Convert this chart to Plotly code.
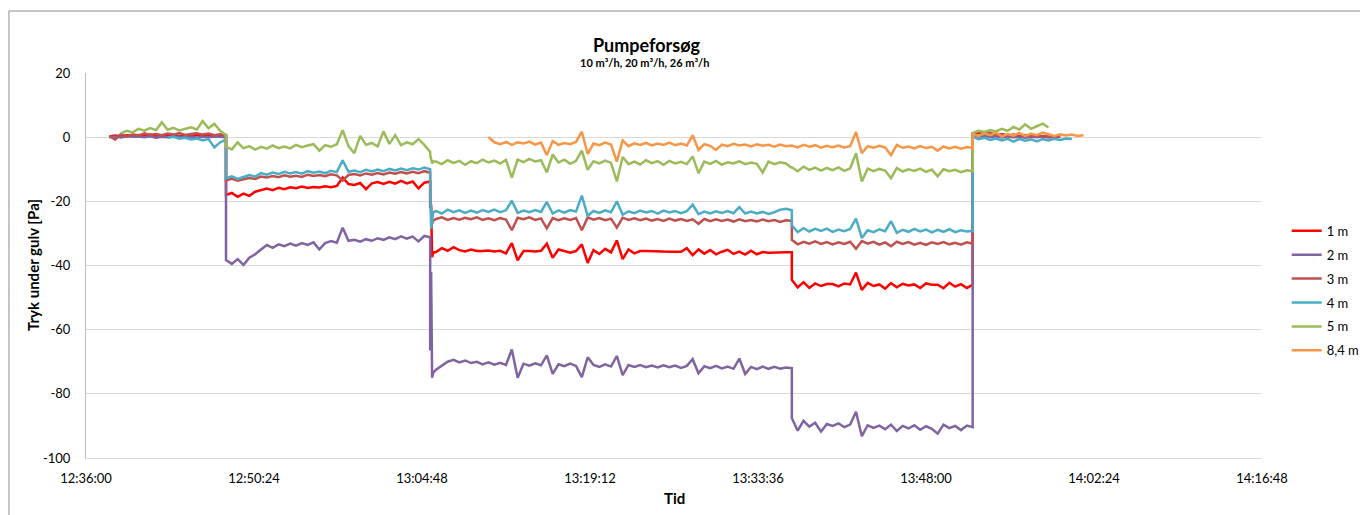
import pandas as pd
import plotly.graph_objects as go

# Logger segments: start time and sampling interval in seconds.
# Each series below holds one value list per segment.
segment_start = ["12:38:00", "12:48:00", "13:05:30", "13:06:00", "13:36:30", "13:52:00"]
segment_interval_s = [30, 30, 5, 30, 30, 30]
segment_length = [21, 36, 4, 62, 32, 21]

series_names = ["1 m", "2 m", "3 m", "4 m", "5 m", "8,4 m"]
series_colors = ["#FF0000", "#8064A2", "#C0504D", "#4BACC6", "#9BBB59", "#F79646"]

y_ticks = [-100, -80, -60, -40, -20, 0, 20]

N = None

tryk_1m = [
    [0.2, 0.5, 0.3, 0.6, 0.4, 0.7, 0.5, 0.8, 0.4, 0.6,
     0.5, 0.7, 0.4, 0.6, 0.5, 0.8, 0.6, 0.7, 0.5, 0.6,
     0.4],
    [-18.0, -17.4, -18.6, -17.6, -18.3, -17.0, -16.6, -16.0, -16.5, -15.8,
     -16.2, -15.6, -15.9, -15.4, -15.8, -15.5, -15.7, -15.3, -15.6, -15.2,
     -12.6, -14.6, -14.9, -14.3, -16.2, -14.4, -14.0, -14.6, -13.9, -14.5,
     -13.6, -14.4, -13.8, -16.0, -14.2, -13.8],
    [-22.0, -21.0, -37.4, -36.0],
    [-35.8, -34.6, -35.4, -34.3, -35.2, -35.6, -35.0, -35.5, -35.5, -35.3,
     -35.6, -35.4, -36.2, -33.0, -38.4, -35.5, -35.5, -35.6, -35.4, -33.2,
     -37.6, -35.0, -35.5, -36.0, -35.5, -33.4, -39.2, -35.2, -36.4, -34.8,
     -35.9, -32.2, -38.0, -35.0, -36.2, -35.5, -35.5, -35.6, -35.6, -35.6,
     -35.7, -35.7, -35.7, -34.6, -36.8, -35.0, -36.3, -35.2, -36.5, -35.7,
     -35.1, -36.4, -35.7, -36.6, -35.4, -36.5, -35.8, -36.0, -35.9, -35.9,
     -35.9, -35.9],
    [-44.5, -46.8, -45.2, -47.0, -45.6, -46.4, -45.8, -45.8, -46.5, -45.6,
     -45.9, -42.2, -47.6, -45.4, -46.4, -45.9, -47.2, -45.5, -46.8, -45.7,
     -46.2, -45.9, -47.0, -45.6, -46.0, -46.0, -47.1, -45.4, -46.6, -45.8,
     -47.0, -46.0],
    [1.0, 1.4, 0.8, 1.1, 0.6, 0.9, 0.5, 0.7, 0.4, 0.6,
     0.3, 0.5, 0.2, 0.4, 0.1, 0.3, N, N, N, N,
     N],
]

tryk_2m = [
    [0.0, 0.2, -0.1, 0.3, 0.1, 0.2, 0.0, 0.3, -0.2, 0.1,
     0.0, 0.2, 0.1, 0.0, 0.2, -0.1, 0.1, 0.0, 0.2, 0.1,
     0.0],
    [-38.3, -39.5, -38.0, -39.8, -37.6, -36.5, -35.0, -33.6, -34.5, -33.4,
     -34.0, -33.2, -33.8, -33.0, -33.6, -32.8, -35.0, -33.0, -32.4, -32.9,
     -28.2, -32.3, -32.0, -32.6, -31.8, -32.3, -31.5, -32.0, -31.2, -31.8,
     -30.9, -31.6, -31.0, -32.5, -30.8, -31.2],
    [-66.5, -42.0, -75.0, -73.5],
    [-72.5, -71.2, -70.0, -69.4, -70.2, -69.6, -70.4, -70.0, -70.8, -70.2,
     -70.9, -70.3, -71.0, -66.2, -75.0, -70.6, -71.2, -70.5, -71.1, -68.0,
     -73.8, -70.8, -71.4, -70.6, -71.3, -74.8, -68.6, -71.0, -71.6, -70.8,
     -71.5, -68.2, -74.2, -71.0, -71.6, -71.0, -71.7, -71.2, -71.8, -71.1,
     -71.7, -71.2, -71.9, -71.3, -69.2, -73.6, -71.4, -72.0, -71.3, -72.1,
     -71.5, -72.2, -69.0, -73.8, -71.6, -72.3, -71.5, -72.2, -71.6, -72.2,
     -71.8, -72.0],
    [-87.5, -91.5, -88.4, -90.2, -89.0, -91.8, -89.4, -90.0, -89.2, -90.4,
     -89.6, -85.6, -93.2, -89.8, -90.6, -89.9, -91.0, -89.6, -91.6, -90.0,
     -90.8, -89.8, -91.2, -90.1, -90.9, -92.4, -89.6, -90.7, -90.0, -91.3,
     -89.9, -90.4],
    [0.6, 0.2, 0.4, 0.0, 0.3, -0.1, 0.2, 0.0, 0.1, -0.2,
     0.1, 0.0, 0.2, -0.1, 0.0, 0.1, N, N, N, N,
     N],
]

tryk_3m = [
    [0.4, -0.8, 1.0, 0.2, 0.9, 0.5, 1.2, 0.7, 1.0, 0.6,
     1.1, 0.8, 1.3, 0.7, 1.0, 1.2, 0.8, 1.1, 0.6, 0.9,
     0.7],
    [-13.5, -13.0, -13.6, -13.1, -12.7, -13.0, -12.3, -12.6, -12.1, -12.5,
     -11.9, -12.3, -12.0, -12.4, -11.7, -12.1, -11.8, -12.2, -11.6, -11.9,
     -13.5, -11.8, -11.5, -11.9, -11.3, -11.7, -11.2, -11.6, -11.0, -11.4,
     -10.9, -11.3, -10.8, -11.2, -10.6, -11.1],
    [-18.0, -24.0, -27.0, -26.0],
    [-25.5, -25.0, -25.8, -25.2, -25.7, -25.1, -25.6, -25.0, -25.8, -25.3,
     -25.9, -25.2, -25.7, -29.0, -25.1, -25.6, -25.0, -25.8, -25.3, -28.4,
     -25.2, -25.9, -25.3, -25.8, -25.2, -29.0, -25.0, -25.7, -25.2, -25.9,
     -25.4, -28.2, -25.1, -25.8, -25.3, -25.9, -25.4, -26.0, -25.5, -26.1,
     -25.4, -26.0, -25.5, -26.1, -25.6, -27.0, -25.5, -26.2, -25.6, -26.1,
     -25.7, -26.3, -25.6, -26.2, -25.8, -26.3, -25.7, -26.2, -25.8, -26.4,
     -25.9, -26.1],
    [-32.0, -33.4, -32.6, -33.2, -32.5, -33.3, -32.7, -33.4, -32.8, -33.3,
     -32.6, -34.8, -32.4, -33.2, -32.6, -33.5, -32.8, -34.0, -32.6, -33.3,
     -32.7, -33.5, -32.9, -33.6, -32.8, -33.3, -32.7, -33.4, -32.9, -33.5,
     -32.8, -33.2],
    [1.2, 1.8, 0.9, 1.4, 0.6, 1.0, 0.4, 0.8, 0.3, 0.7,
     0.2, 0.5, 0.1, 0.4, 0.0, 0.2, N, N, N, N,
     N],
]

tryk_4m = [
    [N, N, N, N, N, N, N, N, N, N,
     -0.2, 0.1, -0.5, -0.2, -0.7, -0.4, -1.0, -0.6, -3.2, -1.6,
     -0.8],
    [-12.8, -12.2, -13.0, -12.4, -11.8, -12.3, -11.2, -11.7, -11.0, -11.5,
     -10.8, -11.3, -10.9, -11.4, -10.6, -11.1, -10.7, -11.2, -10.5, -10.9,
     -7.2, -10.8, -10.4, -10.9, -10.2, -10.7, -10.1, -10.6, -9.9, -10.4,
     -9.8, -10.3, -9.7, -10.1, -9.5, -10.0],
    [-14.0, -28.5, -24.5, -23.5],
    [-23.0, -23.8, -22.6, -23.4, -22.8, -23.6, -22.9, -23.5, -22.7, -23.3,
     -22.6, -23.4, -22.8, -19.8, -23.6, -22.9, -23.4, -22.7, -23.3, -20.2,
     -23.8, -22.8, -23.5, -22.7, -23.2, -18.2, -24.5, -23.0, -23.6, -22.8,
     -23.4, -20.0, -24.2, -23.1, -23.7, -22.9, -23.5, -23.0, -23.8, -22.9,
     -23.5, -23.0, -23.7, -23.1, -21.0, -24.0, -23.2, -23.8, -23.1, -23.6,
     -23.0, -23.7, -21.8, -23.8, -23.2, -23.8, -23.3, -23.9, -23.4, -22.6,
     -22.3, -22.8],
    [-27.5, -29.6, -28.4, -29.4, -28.6, -29.2, -28.5, -29.5, -28.8, -29.3,
     -28.6, -25.4, -31.4, -29.0, -29.6, -28.7, -29.3, -26.2, -29.8, -28.9,
     -29.5, -28.6, -29.4, -28.8, -29.7, -28.9, -29.5, -28.7, -29.6, -29.0,
     -29.4, -29.2],
    [0.2, -0.6, -0.2, -0.9, -0.4, -1.0, -0.5, -1.4, -0.6, -1.1,
     -0.7, -1.3, -0.6, -1.0, -0.5, -0.9, -0.4, -0.6, N, N,
     N],
]

tryk_5m = [
    [N, N, 1.2, 2.0, 1.5, 2.6, 2.0, 2.8, 2.2, 4.6,
     2.3, 2.9, 2.1, 2.7, 3.1, 2.4, 5.0, 2.8, 4.2, 2.0,
     0.6],
    [-3.0, -3.8, -1.6, -3.5, -2.8, -3.9, -3.0, -3.6, -2.6, -3.4,
     -2.9, -3.5, -2.4, -3.1, -2.6, -2.2, -4.2, -2.5, -3.0, -2.2,
     2.2, -2.8, -5.0, 0.4, -2.4, -1.8, -2.9, 1.8, -2.1, 0.6,
     -2.5, -1.6, -2.2, -0.6, -2.4, -4.6],
    [-5.5, -7.0, -8.2, -7.6],
    [-7.6, -8.4, -7.2, -8.0, -7.4, -8.6, -7.5, -8.1, -7.0, -7.9,
     -7.3, -8.2, -7.1, -12.6, -7.0, -7.8, -6.8, -7.6, -7.2, -11.0,
     -5.4, -7.9, -7.0, -8.3, -7.4, -4.2, -10.2, -7.5, -8.2, -7.3,
     -8.0, -13.8, -6.2, -8.4, -7.6, -8.5, -7.2, -8.1, -7.5, -8.6,
     -7.4, -8.2, -7.7, -8.4, -6.0, -11.2, -7.6, -8.3, -7.4, -8.6,
     -7.8, -8.2, -7.5, -8.4, -7.9, -8.3, -11.0, -7.6, -8.4, -7.8,
     -8.2, -9.6],
    [-9.4, -10.6, -9.2, -10.2, -9.5, -10.4, -9.6, -10.3, -9.4, -10.5,
     -9.7, -5.0, -13.8, -9.8, -10.6, -9.9, -10.4, -12.8, -9.6, -10.7,
     -10.0, -10.5, -9.8, -10.8, -10.1, -12.2, -10.0, -10.6, -10.2, -10.9,
     -10.3, -10.6],
    [1.2, 2.0, 1.6, 2.2, 1.8, 2.6, 2.0, 3.2, 2.4, 4.0,
     2.6, 3.4, 4.2, 3.0, N, N, N, N, N, N,
     N],
]

tryk_8_4m = [
    [N] * 21,
    [N] * 36,
    [N] * 4,
    [N, N, N, N, N, N, N, N, N, 0.0,
     -1.6, -2.2, -1.5, -2.4, -1.6, -2.0, -1.4, -2.3, -1.7, -5.6,
     -1.2, -2.4, -1.8, -2.2, -1.5, 1.7, -5.2, -2.0, -2.5, -1.7,
     -2.3, -7.6, -1.0, -2.8, -1.9, -2.4, -1.8, -2.6, -2.0, -2.4,
     -1.7, -2.5, -2.0, -2.6, 0.6, -4.0, -2.2, -2.7, -4.0, -2.3,
     -2.8, -2.1, -2.6, -2.3, -2.9, -2.2, -2.7, -2.4, -3.0, -2.3,
     -2.8, -2.6],
    [-2.6, -3.2, -2.4, -3.0, -2.5, -3.3, -2.7, -3.1, -2.6, -3.2,
     -2.8, 1.6, -5.0, -2.8, -3.3, -2.7, -3.2, -5.6, -2.4, -3.3,
     -2.9, -3.5, -2.8, -3.4, -3.0, -4.2, -2.9, -3.5, -3.0, -3.6,
     -3.1, -3.4],
    [1.0, 0.4, 1.2, 0.6, 1.4, 0.2, 1.0, 0.5, 1.3, 0.3,
     1.1, 0.6, 1.4, 0.8, 0.4, 0.9, 0.5, 0.8, 0.4, 0.6,
     N],
]

all_series = [tryk_1m, tryk_2m, tryk_3m, tryk_4m, tryk_5m, tryk_8_4m]

DAY = "2014-01-01 "


def sample_times():
    times = []
    for start, step, n in zip(segment_start, segment_interval_s, segment_length):
        t0 = pd.Timestamp(DAY + start)
        times += [t0 + pd.Timedelta(seconds=step * i) for i in range(n)]
    return times


def flatten(name, segments):
    values = []
    for k, (seg, n) in enumerate(zip(segments, segment_length)):
        if len(seg) != n:
            raise ValueError(f"{name}: segment {k} has {len(seg)} values, expected {n}")
        values += seg
    return values


tid = sample_times()

fig = go.Figure()
for name, color, segments in zip(series_names, series_colors, all_series):
    fig.add_trace(go.Scatter(
        x=tid,
        y=flatten(name, segments),
        name=name,
        legendgroup=name,
        mode="lines",
        line=dict(color=color, width=2.5),
        connectgaps=False,
    ))

FONT = "Lato, 'Open Sans', 'DejaVu Sans', sans-serif"

fig.update_layout(
    width=1360,
    height=515,
    margin=dict(l=86, r=98, t=73, b=57, autoexpand=False),
    paper_bgcolor="white",
    plot_bgcolor="white",
    font=dict(family=FONT, size=13, color="#000000"),
    showlegend=True,
    legend=dict(
        x=1.021, y=0.629, xanchor="left", yanchor="top",
        font=dict(size=13, color="#000000"),
        itemwidth=30,
        tracegroupgap=4,
        bgcolor="rgba(0,0,0,0)",
    ),
    xaxis=dict(
        type="date",
        range=[DAY + "12:36:00", DAY + "14:16:48"],
        tick0=DAY + "12:36:00",
        dtick=14.4 * 60 * 1000,
        tickformat="%H:%M:%S",
        showgrid=False,
        zeroline=False,
        showline=True,
        linecolor="#D9D9D9",
        linewidth=1,
        ticks="outside",
        ticklen=8,
        tickcolor="rgba(0,0,0,0)",
        tickfont=dict(size=13, color="#000000"),
    ),
    yaxis=dict(
        range=[-100, 20],
        tickvals=y_ticks,
        ticktext=[str(v) for v in y_ticks],
        showgrid=True,
        gridcolor="#D9D9D9",
        gridwidth=1,
        zeroline=False,
        showline=True,
        linecolor="#BFBFBF",
        linewidth=1,
        ticks="outside",
        ticklen=12,
        tickcolor="rgba(0,0,0,0)",
        tickfont=dict(size=13, color="#000000"),
    ),
    annotations=[
        dict(text="<b>Pumpeforsøg</b>", xref="paper", yref="paper",
             x=0.4762, y=1.0727, xanchor="center", yanchor="middle",
             showarrow=False, font=dict(size=18)),
        dict(text="<b>10 m³/h, 20 m³/h, 26 m³/h</b>", xref="paper", yref="paper",
             x=0.4745, y=1.026, xanchor="center", yanchor="middle",
             showarrow=False, font=dict(size=11)),
        dict(text="<b>Tryk under gulv [Pa]</b>", xref="paper", yref="paper",
             x=-0.0451, y=0.5013, xanchor="center", yanchor="middle",
             textangle=-90, showarrow=False, font=dict(size=15)),
        dict(text="<b>Tid</b>", xref="paper", yref="paper",
             x=0.5, y=-0.1039, xanchor="center", yanchor="middle",
             showarrow=False, font=dict(size=15)),
    ],
    shapes=[
        dict(type="line", xref="paper", yref="paper",
             x0=-0.0655, x1=1.2, y0=1.161, y1=1.161,
             line=dict(color="#8C8C8C", width=1)),
        dict(type="line", xref="paper", yref="paper",
             x0=-0.0655, x1=-0.0655, y0=1.161, y1=-0.3,
             line=dict(color="#8C8C8C", width=1)),
    ],
)

fig.write_html("out.html")
